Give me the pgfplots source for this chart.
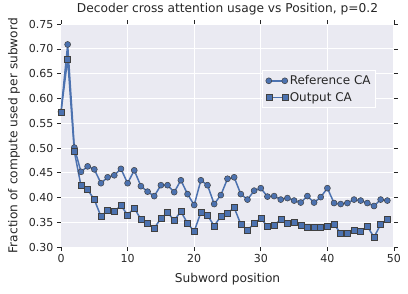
\documentclass[border=0pt]{standalone}
\usepackage{pgfplots}
\pgfplotsset{compat=1.18}
\usepackage{fontspec}
\setmainfont{DejaVu Sans}
\definecolor{sbblue}{HTML}{4C72B0}
\definecolor{sbbg}{HTML}{EAEAF2}
\definecolor{sbtext}{HTML}{262626}
\begin{document}
\begin{tikzpicture}[x=1pt,y=1pt]
\begin{axis}[
  at={(0,0)}, anchor=south west,
  scale only axis, width=333pt, height=223pt,
  xmin=0, xmax=50, ymin=0.30, ymax=0.75,
  xtick={0,10,20,30,40,50},
  ytick={0.30,0.35,0.40,0.45,0.50,0.55,0.60,0.65,0.70,0.75},
  yticklabel style={/pgf/number format/.cd, fixed, fixed zerofill, precision=2},
  /pgf/number format/assume math mode=true,
  tick label style={font=\fontsize{11}{13}\selectfont, text=sbtext},
  label style={font=\fontsize{12.2}{14}\selectfont, text=sbtext},
  title style={font=\fontsize{12.2}{14}\selectfont, text=sbtext, at={(axis description cs:0.5,1.04)}, anchor=center},
  title={Decoder cross attention usage vs Position, p=0.2},
  xlabel={Subword position},
  ylabel={Fraction of compute used per subword},
  xlabel style={at={(axis description cs:0.5,-0.1435)}, anchor=center},
  ylabel style={at={(axis description cs:-0.141,0.5)}, anchor=center},
  axis background/.style={fill=sbbg},
  axis line style={draw=none},
  grid=major, major grid style={white, line width=1pt},
  tick align=outside, xtick pos=both, ytick pos=both,
  major tick length=4pt,
  every tick/.style={sbtext, line width=0.8pt},
  legend style={at={(0.946,0.794)}, anchor=north east, fill=sbbg, draw=white, line width=0.8pt,
    font=\fontsize{12}{14}\selectfont, text=sbtext, row sep=2pt, inner sep=3pt},
  legend cell align=left,
  legend image code/.code={\draw[#1] plot coordinates {(0pt,0pt) (16pt,0pt)};},
]
\addplot[sbblue, line width=1.5pt, mark=*, mark size=3pt,
  mark options={fill=sbblue, draw=black!75, line width=0.5pt}] coordinates {
(0,0.573)(1,0.709)(2,0.501)(3,0.452)(4,0.463)(5,0.457)(6,0.429)(7,0.441)(8,0.445)(9,0.458)
(10,0.429)(11,0.455)(12,0.423)(13,0.412)(14,0.403)(15,0.425)(16,0.425)(17,0.411)(18,0.435)(19,0.407)
(20,0.385)(21,0.435)(22,0.425)(23,0.387)(24,0.405)(25,0.438)(26,0.441)(27,0.407)(28,0.396)(29,0.414)
(30,0.419)(31,0.402)(32,0.403)(33,0.396)(34,0.399)(35,0.394)(36,0.390)(37,0.403)(38,0.390)(39,0.401)
(40,0.419)(41,0.389)(42,0.387)(43,0.389)(44,0.396)(45,0.394)(46,0.389)(47,0.383)(48,0.396)(49,0.394)};
\addlegendentry{Reference CA}
\addplot[sbblue, line width=1.5pt, mark=square*, mark size=3pt,
  mark options={fill=sbblue, draw=black!75, line width=0.5pt}] coordinates {
(0,0.573)(1,0.680)(2,0.493)(3,0.424)(4,0.416)(5,0.396)(6,0.362)(7,0.374)(8,0.372)(9,0.384)
(10,0.365)(11,0.379)(12,0.356)(13,0.348)(14,0.338)(15,0.358)(16,0.370)(17,0.354)(18,0.372)(19,0.348)
(20,0.332)(21,0.370)(22,0.364)(23,0.343)(24,0.362)(25,0.368)(26,0.380)(27,0.346)(28,0.334)(29,0.348)
(30,0.358)(31,0.342)(32,0.344)(33,0.356)(34,0.348)(35,0.350)(36,0.344)(37,0.340)(38,0.340)(39,0.340)
(40,0.343)(41,0.346)(42,0.328)(43,0.328)(44,0.334)(45,0.332)(46,0.342)(47,0.320)(48,0.346)(49,0.356)};
\addlegendentry{Output CA}
\end{axis}
\path[use as bounding box] (-61pt,-46pt) rectangle (347pt,244pt);
\end{tikzpicture}
\end{document}
